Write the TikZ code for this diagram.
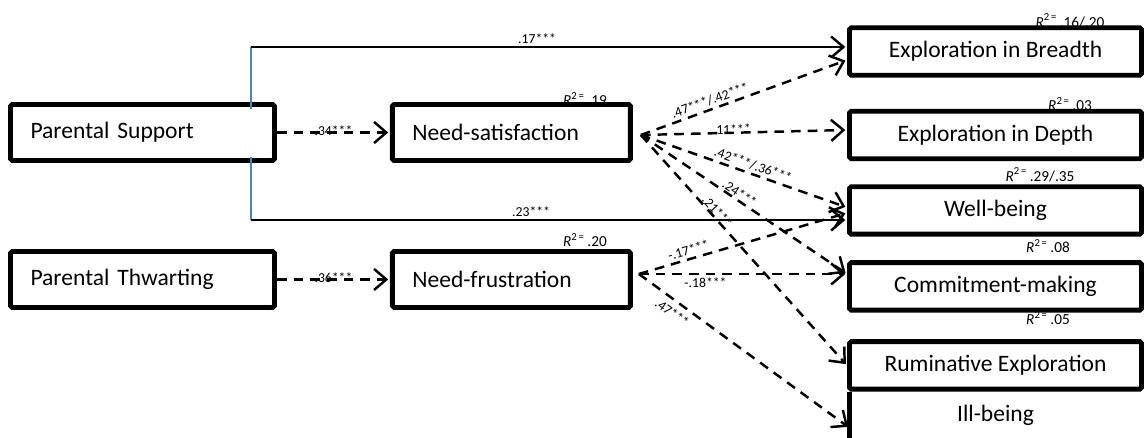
\documentclass[tikz,border=0pt]{standalone}
\usepackage{fontspec}
\setmainfont{Carlito}
\usetikzlibrary{arrows.meta,positioning}
\definecolor{linkblue}{RGB}{79,129,189}

\begin{document}
\begin{tikzpicture}[x=0.02cm,y=-0.02cm,on grid,
	var/.style={draw,line width=2.8pt,fill=white,rounded corners=1pt,inner sep=0pt,minimum height=1.12cm,font=\fontsize{13.4}{15}\selectfont},
	leftvar/.style={var,text width=#1,align=left,inner xsep=0.4cm},
	outvar/.style={var,minimum width=5.84cm,minimum height=0.95cm},
	rsq/.style={font=\fontsize{8.7}{10}\selectfont,inner sep=0pt},
	coef/.style={font=\fontsize{7.8}{9}\selectfont,inner sep=1.5pt},
	dasharrow/.style={line width=1.4pt,dash pattern=on 5.5pt off 4pt,-{Straight Barb[length=7pt,width=12pt,line width=1.4pt]},shorten >=1pt},
	solidarrow/.style={line width=1.1pt,-{Straight Barb[length=7pt,width=12pt,line width=1.4pt]},shorten >=1pt},
	supportline/.style={linkblue,line width=0.9pt}]
			\useasboundingbox (0,0) rectangle (1146,438);
			% explained variance, partly hidden under the boxes
			\node[rsq](r2eb) at (1070,21) {\textit{R}\textsuperscript{2\,=}\,.16/.20};
			\node[rsq](r2ns) at (585,99) {\textit{R}\textsuperscript{2\,=}\,.19};
			\node[rsq](r2ed) at (1070,104) {\textit{R}\textsuperscript{2\,=}\,.03};
			\node[rsq](r2wb) at (1040,175) {\textit{R}\textsuperscript{2\,=}\,.29/.35};
			\node[rsq](r2nf) at (585,240) {\textit{R}\textsuperscript{2\,=}\,.20};
			\node[rsq](r2cm) at (1048,246) {\textit{R}\textsuperscript{2\,=}\,.08};
			\node[rsq](r2re) at (1048,318) {\textit{R}\textsuperscript{2\,=}\,.05};
			% variables
			\node[leftvar=4.48cm](ps) at (142.5,132.5) {Parental Support};
			\node[leftvar=3.96cm](ns)[right=7.38cm of ps] {Need-satisfaction};
			\node[leftvar=4.48cm](pt)[below=2.94cm of ps] {Parental Thwarting};
			\node[leftvar=3.96cm](nf)[below=2.94cm of ns] {Need-frustration};
			\node[outvar](eb) at (995.5,51.5) {Exploration in Breadth};
			\node[outvar](ed)[below=1.67cm of eb] {Exploration in Depth};
			\node[outvar](wb)[below=1.51cm of ed] {Well-being};
			\node[outvar](cm)[below=1.52cm of wb] {Commitment-making};
			\node[outvar](re)[below=1.58cm of cm] {Ruminative Exploration};
			\node[outvar,draw=none,fill=none,outer sep=0pt](ib)[below=1.0cm of re] {Ill-being};
			\draw[line width=2.8pt] (ib.north west) -- (ib.south west);
			% direct paths
			\coordinate (sTop) at (251,47);
			\coordinate (sBot) at (251,220);
			\draw[supportline] (sTop) -- ([yshift=-0.14cm]sTop |- ps.north);
			\draw[supportline] (sBot) -- ([yshift=0.12cm]sBot |- ps.south);
			\draw[solidarrow] (sTop) -- node[coef,above,pos=0.48] {.17***} (sTop -| eb.west);
			\draw[solidarrow] (sBot) -- node[coef,above,pos=0.47] {.23***} (sBot -| wb.west);
			% mediated paths
			\coordinate (nsx) at ([xshift=0.16cm,yshift=-0.05cm]ns.east);
			\coordinate (nfx) at ([xshift=0.12cm,yshift=0.11cm]nf.east);
			\path[dasharrow]
			(ps) edge node[coef,pos=0.5,yshift=1pt] {.34***} (ns)
			(pt) edge node[coef,pos=0.5,yshift=1pt] {.36***} (nf)
			(nsx) edge node[coef,sloped,above,pos=0.35] {.47***/.42***} ([yshift=-0.17cm]eb.west)
			(nsx) edge node[coef,sloped,pos=0.45,yshift=2pt] {11***} ([yshift=0.1cm]ed.west)
			(nsx) edge node[coef,sloped,above,pos=0.53] {.42***/.36***} ([yshift=0.06cm]wb.west)
			(nsx) edge node[coef,sloped,above,pos=0.46,inner sep=0.5pt] {.24***} ([yshift=0.25cm]cm.west)
			(nsx) edge node[coef,sloped,above,pos=0.35,inner sep=0pt] {.21***} (re.west)
			(nfx) edge node[coef,sloped,above,pos=0.25] {-.17***} ([yshift=-0.05cm]wb.west)
			(nfx) edge node[coef,below,pos=0.32] {-.18***} (nfx -| cm.west)
			(nfx) edge node[coef,sloped,below,pos=0.19,inner sep=3pt] {.47***} ([yshift=-0.25cm]ib.west);
\end{tikzpicture}
\end{document}
